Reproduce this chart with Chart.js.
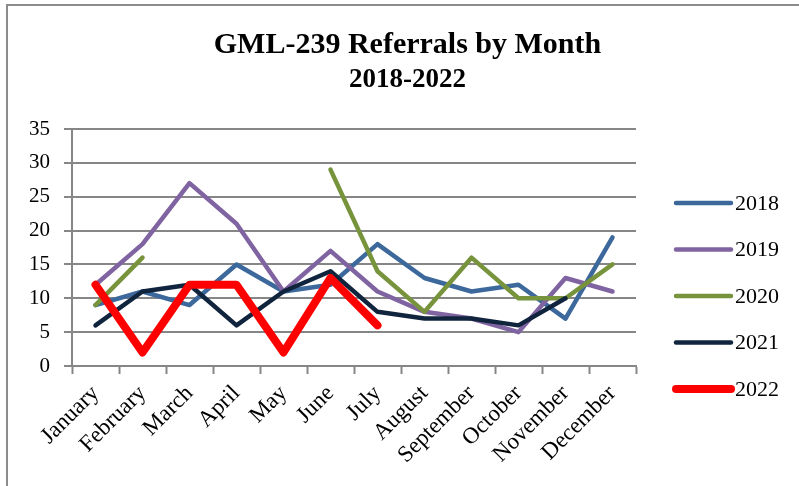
<!DOCTYPE html>
<html>
<head>
<meta charset="utf-8">
<script src="https://cdn.jsdelivr.net/npm/chart.js@4.4.1/dist/chart.umd.min.js"></script>
<style>
  html, body { margin: 0; padding: 0; background: #fff; overflow: hidden; }
  #wrap { position: relative; width: 799px; height: 486px; overflow: hidden; }
</style>
</head>
<body>
<div id="wrap"><canvas id="referralsChart" width="815" height="486"></canvas></div>
<script>
// Chart data
const months = ['January', 'February', 'March', 'April', 'May', 'June',
  'July', 'August', 'September', 'October', 'November', 'December'];
const years = ['2018', '2019', '2020', '2021', '2022'];

const refs2018 = [9, 11, 9, 15, 11, 12, 18, 13, 11, 12, 7, 19];
const refs2019 = [12, 18, 27, 21, 11, 17, 11, 8, 7, 5, 13, 11];
const refs2020 = [9, 16, null, null, null, 29, 14, 8, 16, 10, 10, 15];
const refs2021 = [6, 11, 12, 6, 11, 14, 8, 7, 7, 6, 10, null];
const refs2022 = [12, 2, 12, 12, 2, 13, 6, null, null, null, null, null];

const yTicks = [0, 5, 10, 15, 20, 25, 30, 35];

const lineColors = ['#3c689c', '#8064a2', '#77933c', '#10243e', '#ff0000'];
const lineWidths = [4.5, 4.5, 4.5, 4.5, 8];

const serif = '"Liberation Serif", "Times New Roman", serif';
const gridColor = '#868686';

// Outer frame like the Excel chart border
const framePlugin = {
  id: 'frame',
  beforeDraw(chart) {
    const ctx = chart.ctx;
    ctx.save();
    ctx.fillStyle = '#fff';
    ctx.fillRect(0, 0, chart.width, chart.height);
    ctx.strokeStyle = '#8c8c8c';
    ctx.lineWidth = 2;
    ctx.strokeRect(7, 5, chart.width + 10, chart.height + 10);
    ctx.restore();
  }
};

// Legend on the right, line samples with year labels
const sideLegend = {
  id: 'sideLegend',
  afterDraw(chart) {
    const ctx = chart.ctx;
    ctx.save();
    ctx.font = '22px ' + serif;
    ctx.textBaseline = 'middle';
    ctx.lineCap = 'round';
    chart.data.datasets.forEach((ds, i) => {
      const y = 203 + i * 46.5;
      ctx.strokeStyle = ds.borderColor;
      ctx.lineWidth = ds.borderWidth;
      ctx.beginPath();
      ctx.moveTo(676, y);
      ctx.lineTo(731, y);
      ctx.stroke();
      ctx.fillStyle = '#000';
      ctx.fillText(ds.label, 735, y + 1);
    });
    ctx.restore();
  }
};

const seriesData = [refs2018, refs2019, refs2020, refs2021, refs2022];

const ctx = document.getElementById('referralsChart').getContext('2d');
new Chart(ctx, {
  type: 'line',
  data: {
    labels: months,
    datasets: years.map((year, i) => ({
      label: year,
      data: seriesData[i],
      borderColor: lineColors[i],
      backgroundColor: lineColors[i],
      borderWidth: lineWidths[i],
      borderJoinStyle: 'round',
      borderCapStyle: 'round',
      pointRadius: 0,
      tension: 0,
      spanGaps: false,
      order: years.length - i
    }))
  },
  options: {
    responsive: false,
    animation: false,
    layout: { padding: 0 },
    plugins: {
      legend: { display: false },
      tooltip: { enabled: false },
      title: {
        display: true,
        text: 'GML-239 Referrals by Month',
        color: '#000',
        font: { family: serif, size: 30, weight: 'bold' },
        padding: { top: 27, bottom: 0 }
      },
      subtitle: {
        display: true,
        text: '2018-2022',
        color: '#000',
        font: { family: serif, size: 27, weight: 'bold' },
        padding: { top: 1, bottom: 32.6 }
      }
    },
    scales: {
      x: {
        offset: true,
        grid: {
          display: true,
          drawOnChartArea: false,
          drawTicks: true,
          tickLength: 8,
          tickWidth: 2,
          tickColor: gridColor,
          offset: true
        },
        border: { display: true, color: gridColor, width: 2 },
        ticks: {
          color: '#000',
          font: { family: serif, size: 23 },
          minRotation: 45,
          maxRotation: 45,
          autoSkip: false,
          padding: 6
        },
        afterFit(scale) { scale.height = 120; }
      },
      y: {
        min: 0,
        max: 35,
        afterBuildTicks(scale) { scale.ticks = yTicks.map(v => ({ value: v })); },
        grid: {
          color: gridColor,
          lineWidth: 2,
          tickLength: 8,
          tickColor: gridColor
        },
        border: { display: true, color: gridColor, width: 2 },
        ticks: {
          color: '#000',
          font: { family: serif, size: 21 },
          padding: 14
        },
        afterFit(scale) { scale.width = 72; }
      },
      // empty box on the right that reserves room for the legend
      legendSpace: {
        type: 'linear',
        position: 'right',
        display: true,
        grid: { display: false, drawTicks: false },
        border: { display: false },
        ticks: { display: false },
        afterFit(scale) { scale.width = 179; }
      }
    }
  },
  plugins: [framePlugin, sideLegend]
});
</script>
</body>
</html>
